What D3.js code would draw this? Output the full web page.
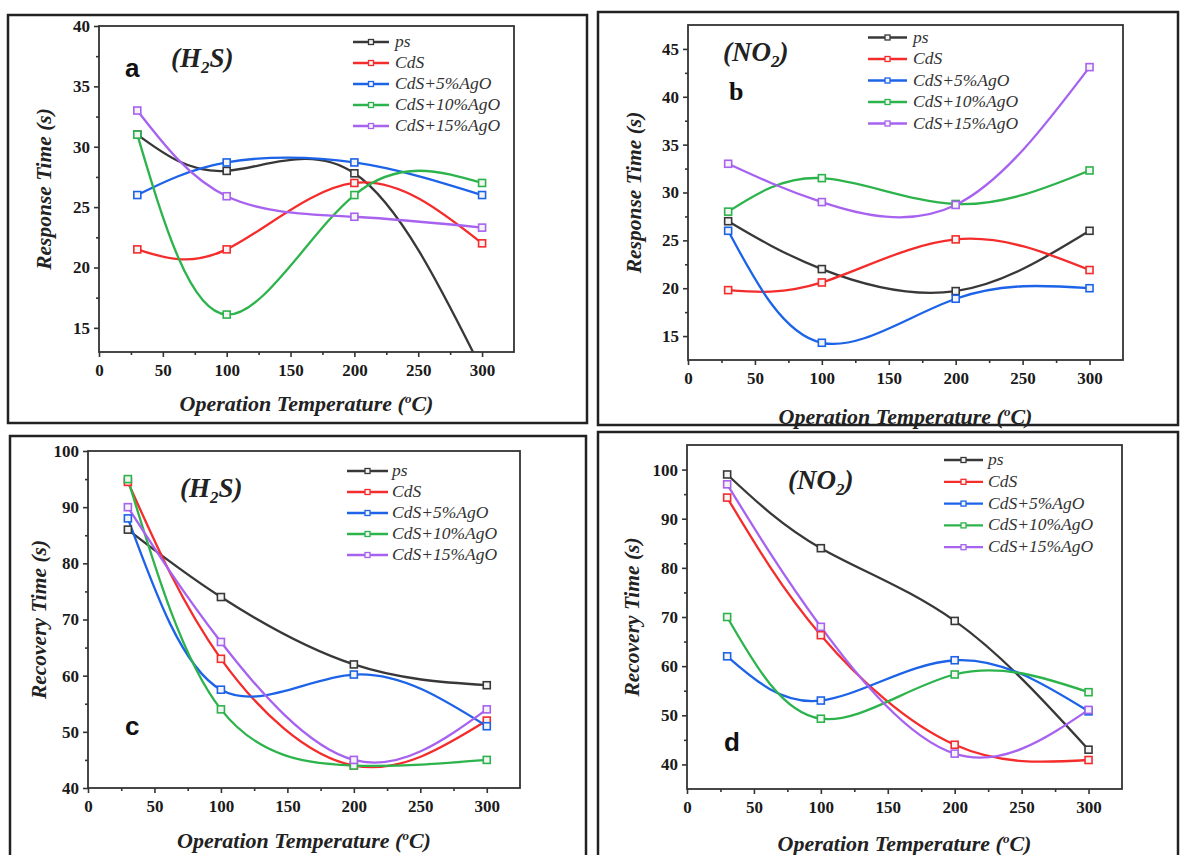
<!DOCTYPE html>
<html><head><meta charset="utf-8">
<script src="https://cdn.jsdelivr.net/npm/d3@7"></script>
<style>body{margin:0;background:#fff} svg{display:block}</style>
</head><body>
<svg id="chart" width="1180" height="855"></svg>
<script>
// ---------- data ----------
const temps = [30, 100, 200, 300];
const seriesNames = ["ps", "CdS", "CdS+5%AgO", "CdS+10%AgO", "CdS+15%AgO"];
const xTickValues = [0, 50, 100, 150, 200, 250, 300];
const xMinorValues = [25, 75, 125, 175, 225, 275];

const responseH2S = [
  [31, 28, 27.8, 11.5],
  [21.5, 21.5, 27, 22],
  [26, 28.7, 28.7, 26],
  [31, 16.1, 26, 27],
  [33, 25.9, 24.2, 23.3]
];
const responseNO2 = [
  [27, 22, 19.7, 26],
  [19.8, 20.6, 25.1, 21.9],
  [26, 14.3, 18.9, 20],
  [28, 31.5, 28.8, 32.3],
  [33, 29, 28.7, 43.1]
];
const recoveryH2S = [
  [86, 74, 62, 58.3],
  [94.5, 63, 44, 52],
  [88, 57.5, 60.2, 51],
  [95, 54, 44, 45],
  [90, 66, 45, 54]
];
const recoveryNO2 = [
  [99, 84, 69.2, 43],
  [94.3, 66.3, 44, 40.9],
  [62, 53, 61.2, 50.8],
  [70, 49.3, 58.3, 54.7],
  [97, 68, 42.2, 51.1]
];
const yTicksA = [15, 20, 25, 30, 35, 40];
const yMinorA = [17.5, 22.5, 27.5, 32.5, 37.5];
const yTicksB = [15, 20, 25, 30, 35, 40, 45];
const yMinorB = [17.5, 22.5, 27.5, 32.5, 37.5, 42.5];
const yTicksC = [40, 50, 60, 70, 80, 90, 100];
const yMinorC = [45, 55, 65, 75, 85, 95];
const yTicksD = [40, 50, 60, 70, 80, 90, 100];
const yMinorD = [45, 55, 65, 75, 85, 95];

// ---------- style / layout ----------
const colors = ["#383838", "#f42c2c", "#1c63e8", "#2db34b", "#a762ef"];
const serif = "'Liberation Serif','Times New Roman',serif";
const sans = "'Liberation Sans',Arial,sans-serif";

const panels = [
  { key: "a", data: responseH2S, yDom: [13, 40], yTicks: yTicksA, yMinor: yMinorA,
    frame: [8, 15, 587, 423], plot: [99, 26, 514, 352],
    legend: { x1: 353, x2: 389, tx: 395, y0: 42, dy: 21 },
    gas: ["(H", "2", "S)"], gasX: 171, gasY: 67, letter: "a", letterFont: sans, letterX: 125, letterY: 77,
    yTitle: "Response Time (s)", yTitleX: 43, xTitleY: 411 },
  { key: "b", data: responseNO2, yDom: [12.5, 47.5], yTicks: yTicksB, yMinor: yMinorB,
    frame: [598, 12, 1178, 425], plot: [688, 25, 1123, 360],
    legend: { x1: 868, x2: 907, tx: 913, y0: 37.5, dy: 21.5 },
    gas: ["(NO", "2", ")"], gasX: 723, gasY: 61, letter: "b", letterFont: serif, letterX: 729, letterY: 100,
    yTitle: "Response Time (s)", yTitleX: 633, xTitleY: 424 },
  { key: "c", data: recoveryH2S, yDom: [40, 100], yTicks: yTicksC, yMinor: yMinorC,
    frame: [10, 436, 586, 880], plot: [88, 451, 520, 788],
    legend: { x1: 347, x2: 388, tx: 392, y0: 471, dy: 21 },
    gas: ["(H", "2", "S)"], gasX: 180, gasY: 497, letter: "c", letterFont: sans, letterX: 125, letterY: 735,
    yTitle: "Recovery Time (s)", yTitleX: 38, xTitleY: 848 },
  { key: "d", data: recoveryNO2, yDom: [35, 105], yTicks: yTicksD, yMinor: yMinorD,
    frame: [598, 432, 1178, 880], plot: [687, 445, 1122, 789],
    legend: { x1: 944, x2: 983, tx: 988, y0: 460, dy: 21.8 },
    gas: ["(NO", "2", ")"], gasX: 788, gasY: 489, letter: "d", letterFont: sans, letterX: 724, letterY: 751,
    yTitle: "Recovery Time (s)", yTitleX: 631, xTitleY: 851 }
];

const svg = d3.select("#chart");
const defs = svg.append("defs");

function drawPanel(p) {
  const [pl, pt, pr, pb] = p.plot;
  const g = svg.append("g");
  const x = d3.scaleLinear().domain([0, 325]).range([pl, pr]);
  const y = d3.scaleLinear().domain(p.yDom).range([pb, pt]);

  defs.append("clipPath").attr("id", "clip" + p.key)
    .append("rect").attr("x", pl).attr("y", pt).attr("width", pr - pl).attr("height", pb - pt);

  // x axis
  const xMinor = g.append("g").attr("transform", `translate(0,${pb})`)
    .call(d3.axisBottom(x).tickValues(xMinorValues).tickSize(3).tickFormat(""));
  const xMajor = g.append("g").attr("transform", `translate(0,${pb})`)
    .call(d3.axisBottom(x).tickValues(xTickValues).tickSize(5).tickPadding(7));
  // y axis
  const yMinor = g.append("g").attr("transform", `translate(${pl},0)`)
    .call(d3.axisLeft(y).tickValues(p.yMinor).tickSize(3).tickFormat(""));
  const yMajor = g.append("g").attr("transform", `translate(${pl},0)`)
    .call(d3.axisLeft(y).tickValues(p.yTicks).tickSize(5).tickPadding(4));
  [xMinor, xMajor, yMinor, yMajor].forEach(a => {
    a.select(".domain").remove();
    a.selectAll("line").attr("stroke", "#333").attr("stroke-width", 1.6);
    a.selectAll("text").attr("fill", "#1a1a1a").style("font-family", serif)
      .style("font-size", "17px").style("font-weight", "bold");
  });

  // plot box
  g.append("rect").attr("x", pl).attr("y", pt).attr("width", pr - pl).attr("height", pb - pt)
    .attr("fill", "none").attr("stroke", "#333").attr("stroke-width", 1.8);

  // series
  const line = d3.line().x((d, i) => x(temps[i])).y(d => y(d)).curve(d3.curveNatural);
  const clipped = g.append("g").attr("clip-path", `url(#clip${p.key})`);
  p.data.forEach((vals, s) => {
    clipped.append("path").datum(vals).attr("d", line)
      .attr("fill", "none").attr("stroke", colors[s]).attr("stroke-width", 2.3);
  });
  p.data.forEach((vals, s) => {
    clipped.selectAll(null).data(vals).enter().append("rect")
      .attr("x", (d, i) => x(temps[i]) - 3.5).attr("y", d => y(d) - 3.5)
      .attr("width", 7).attr("height", 7)
      .attr("fill", "#f4f4f4").attr("stroke", colors[s]).attr("stroke-width", 1.6);
  });

  // legend
  const L = p.legend;
  seriesNames.forEach((name, s) => {
    const yy = L.y0 + s * L.dy;
    g.append("line").attr("x1", L.x1).attr("x2", L.x2).attr("y1", yy).attr("y2", yy)
      .attr("stroke", colors[s]).attr("stroke-width", 2.3);
    g.append("rect").attr("x", (L.x1 + L.x2) / 2 - 2.5).attr("y", yy - 2.5)
      .attr("width", 5).attr("height", 5).attr("fill", "#f4f4f4")
      .attr("stroke", colors[s]).attr("stroke-width", 1.3);
    g.append("text").attr("x", L.tx).attr("y", yy + 5).text(name)
      .style("font-family", serif).style("font-style", "italic").style("font-size", "17.5px")
      .attr("fill", "#333");
  });

  // gas label
  const gt = g.append("text").attr("x", p.gasX).attr("y", p.gasY)
    .style("font-family", serif).style("font-style", "italic").style("font-weight", "bold")
    .style("font-size", "27px").attr("fill", "#222");
  gt.append("tspan").text(p.gas[0]);
  gt.append("tspan").attr("dy", 6).style("font-size", "17px").text(p.gas[1]);
  gt.append("tspan").attr("dy", -6).text(p.gas[2]);

  // panel letter
  g.append("text").attr("x", p.letterX).attr("y", p.letterY).text(p.letter)
    .style("font-family", p.letterFont).style("font-weight", "bold").style("font-size", "26px")
    .attr("fill", "#111");

  // axis titles
  g.append("text").attr("transform", `translate(${p.yTitleX},${(pt + pb) / 2}) rotate(-90)`)
    .attr("text-anchor", "middle").attr("dy", "0.35em").text(p.yTitle)
    .style("font-family", serif).style("font-style", "italic").style("font-weight", "bold")
    .style("font-size", "21.5px").attr("fill", "#222");
  const xt = g.append("text").attr("x", (pl + pr) / 2).attr("y", p.xTitleY).attr("text-anchor", "middle")
    .style("font-family", serif).style("font-style", "italic").style("font-weight", "bold")
    .style("font-size", "22px").attr("fill", "#222");
  xt.append("tspan").text("Operation Temperature (");
  xt.append("tspan").attr("dy", -8).style("font-size", "13px").text("o");
  xt.append("tspan").attr("dy", 8).text("C)");

  // outer frame
  const [fx, fy, fr, fb] = p.frame;
  svg.append("rect").attr("x", fx).attr("y", fy).attr("width", fr - fx).attr("height", fb - fy)
    .attr("fill", "none").attr("stroke", "#222").attr("stroke-width", 2.5);
}

panels.forEach(drawPanel);
</script>
</body></html>
